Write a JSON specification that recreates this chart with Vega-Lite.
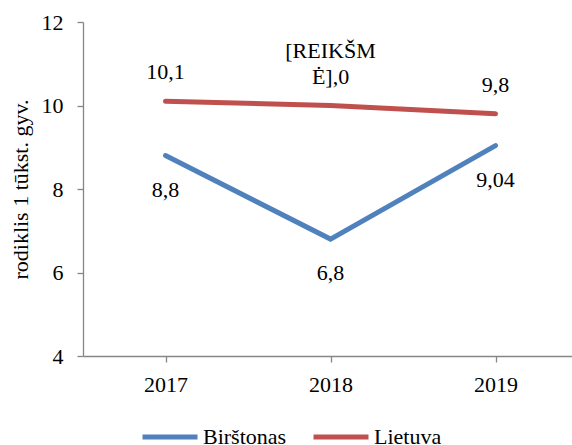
{
  "$schema": "https://vega.github.io/schema/vega-lite/v6.json",
  "width": 495,
  "height": 334,
  "autosize": {"type": "none"},
  "padding": {"left": 83, "top": 22, "right": 0, "bottom": 89},
  "background": "white",
  "config": {
    "font": "Times New Roman",
    "view": {"stroke": null},
    "mark": {"font": "Times New Roman"},
    "text": {"font": "Times New Roman"},
    "legend": {"labelFont": "Times New Roman"},
    "axis": {
      "domainColor": "#868686",
      "tickColor": "#868686",
      "domainWidth": 1.3,
      "tickWidth": 1.3,
      "tickSize": 6,
      "grid": false,
      "labelFont": "Times New Roman",
      "titleFont": "Times New Roman",
      "labelColor": "#000000",
      "labelFontSize": 22,
      "labelFontWeight": "normal",
      "titleColor": "#000000",
      "titleFontSize": 22,
      "titleFontWeight": "normal"
    }
  },
  "data": {
    "values": [
      {"year": "2017", "series": "Birštonas", "value": 8.8, "label": "8,8"},
      {"year": "2018", "series": "Birštonas", "value": 6.8, "label": "6,8"},
      {"year": "2019", "series": "Birštonas", "value": 9.04, "label": "9,04"},
      {"year": "2017", "series": "Lietuva", "value": 10.1, "label": "10,1"},
      {"year": "2018", "series": "Lietuva", "value": 10.0, "label": "[REIKŠM\nĖ],0"},
      {"year": "2019", "series": "Lietuva", "value": 9.8, "label": "9,8"}
    ]
  },
  "encoding": {
    "x": {
      "field": "year",
      "type": "ordinal",
      "scale": {"type": "point", "padding": 0.5},
      "axis": {"title": null, "labelAngle": 0, "labelPadding": 12}
    },
    "y": {
      "field": "value",
      "type": "quantitative",
      "scale": {"domain": [4, 12], "nice": false, "zero": false},
      "axis": {
        "values": [4, 6, 8, 10, 12],
        "title": "rodiklis 1 tūkst. gyv.",
        "labelPadding": 14,
        "titlePadding": 9
      }
    }
  },
  "layer": [
    {
      "mark": {"type": "line", "strokeWidth": 5, "strokeCap": "round"},
      "encoding": {
        "color": {
          "field": "series",
          "type": "nominal",
          "scale": {"domain": ["Birštonas", "Lietuva"], "range": ["#4F81BD", "#C0504D"]},
          "legend": {
            "title": null,
            "orient": "none",
            "direction": "horizontal",
            "legendX": 57,
            "legendY": 385,
            "symbolType": "stroke",
            "symbolStrokeWidth": 5,
            "symbolSize": 3025,
            "labelFont": "Times New Roman",
            "labelFontSize": 22,
            "labelFontWeight": "normal",
            "labelColor": "#000000",
            "labelOffset": 3,
            "columnPadding": 16
          }
        }
      }
    },
    {
      "transform": [{"filter": "datum.series === 'Lietuva' && indexof(datum.label, '\\n') < 0"}],
      "mark": {"type": "text", "font": "Times New Roman", "fontWeight": "normal", "fontSize": 22, "color": "#000000", "baseline": "alphabetic", "dy": -22},
      "encoding": {"text": {"field": "label"}}
    },
    {
      "transform": [{"filter": "datum.series === 'Lietuva' && indexof(datum.label, '\\n') >= 0"}],
      "mark": {"type": "text", "font": "Times New Roman", "fontWeight": "normal", "fontSize": 22, "color": "#000000", "baseline": "alphabetic", "dy": -48, "lineHeight": 26, "lineBreak": "\n"},
      "encoding": {"text": {"field": "label"}}
    },
    {
      "transform": [{"filter": "datum.series === 'Birštonas'"}],
      "mark": {"type": "text", "font": "Times New Roman", "fontWeight": "normal", "fontSize": 22, "color": "#000000", "baseline": "alphabetic", "dy": 41},
      "encoding": {"text": {"field": "label"}}
    }
  ]
}
